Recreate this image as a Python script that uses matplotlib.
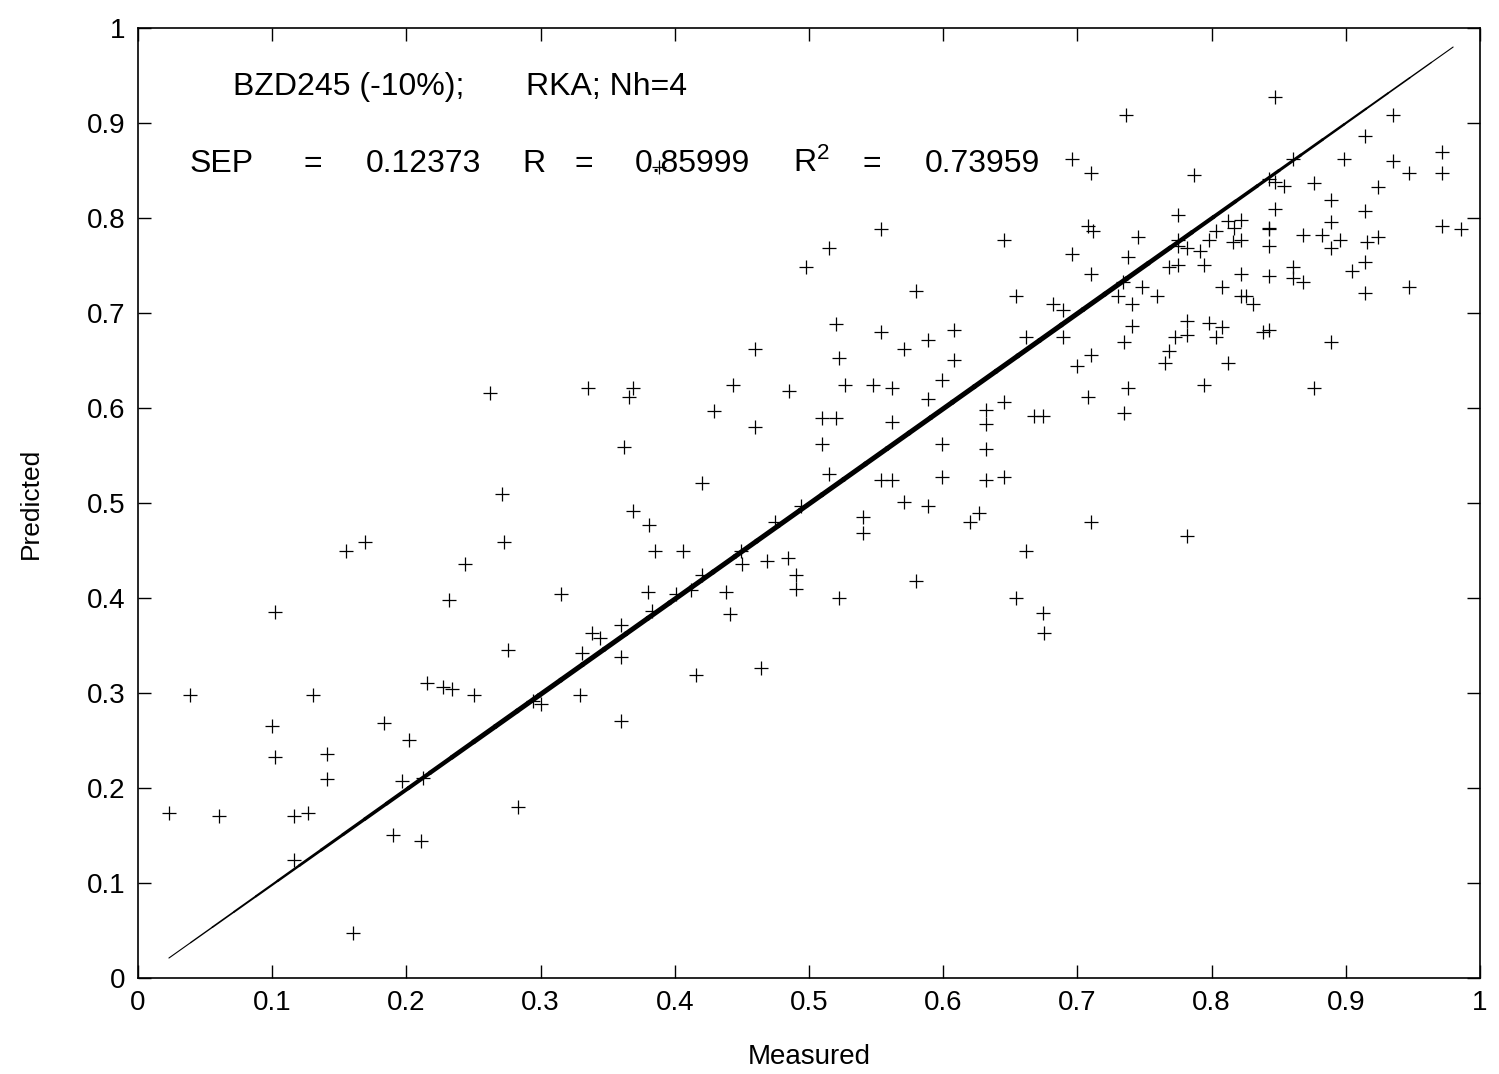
import matplotlib
matplotlib.use("Agg")
import matplotlib.pyplot as plt
import numpy as np
from matplotlib.collections import LineCollection

# measured / predicted values
measured = [
    0.388, 0.498, 0.736, 0.696, 0.710, 0.554, 0.515, 0.645, 0.708, 0.712,
    0.745, 0.696, 0.738, 0.710, 0.580, 0.734, 0.748, 0.654, 0.682, 0.689,
    0.730, 0.741, 0.520, 0.554, 0.608, 0.589, 0.741, 0.662, 0.689, 0.735,
    0.571, 0.847, 0.935, 0.914, 0.972, 0.861, 0.899, 0.935, 0.787, 0.843,
    0.847, 0.854, 0.876, 0.924, 0.947, 0.972, 0.889, 0.847, 0.914, 0.775,
    0.889, 0.812, 0.822, 0.817, 0.803, 0.843, 0.843, 0.972, 0.986, 0.868,
    0.882, 0.896, 0.924, 0.916, 0.889, 0.798, 0.816, 0.822, 0.843, 0.775,
    0.775, 0.782, 0.791, 0.768, 0.775, 0.794, 0.822, 0.843, 0.861, 0.861,
    0.868, 0.905, 0.914, 0.914, 0.947, 0.808, 0.759, 0.822, 0.826, 0.831,
    0.782, 0.798, 0.808, 0.773, 0.782, 0.803, 0.838, 0.843, 0.889, 0.768,
    0.765, 0.812, 0.794, 0.876, 0.782, 0.522, 0.608, 0.710, 0.700, 0.527,
    0.548, 0.562, 0.599, 0.589, 0.645, 0.632, 0.632, 0.738, 0.708, 0.735,
    0.668, 0.674, 0.510, 0.520, 0.562, 0.510, 0.599, 0.632, 0.515, 0.554,
    0.562, 0.599, 0.632, 0.645, 0.571, 0.589, 0.540, 0.540, 0.627, 0.620,
    0.710, 0.662, 0.580, 0.522, 0.654, 0.674, 0.675, 0.460, 0.262, 0.335,
    0.369, 0.366, 0.443, 0.485, 0.429, 0.460, 0.362, 0.420, 0.271, 0.369,
    0.381, 0.494, 0.475, 0.273, 0.385, 0.406, 0.449, 0.450, 0.469, 0.484,
    0.490, 0.490, 0.420, 0.412, 0.401, 0.438, 0.441, 0.380, 0.383, 0.315,
    0.360, 0.338, 0.344, 0.276, 0.331, 0.360, 0.102, 0.155, 0.169, 0.232,
    0.244, 0.039, 0.130, 0.215, 0.227, 0.234, 0.250, 0.100, 0.183, 0.202,
    0.102, 0.141, 0.141, 0.197, 0.212, 0.023, 0.060, 0.116, 0.127, 0.116,
    0.190, 0.211, 0.160, 0.294, 0.300, 0.329, 0.360, 0.416, 0.464, 0.283,
]
predicted = [
    0.854, 0.748, 0.908, 0.862, 0.847, 0.788, 0.768, 0.777, 0.792, 0.786,
    0.780, 0.762, 0.759, 0.741, 0.723, 0.733, 0.727, 0.718, 0.709, 0.703,
    0.718, 0.709, 0.688, 0.680, 0.682, 0.672, 0.686, 0.675, 0.675, 0.670,
    0.662, 0.927, 0.908, 0.886, 0.870, 0.862, 0.862, 0.860, 0.845, 0.841,
    0.838, 0.834, 0.837, 0.833, 0.847, 0.847, 0.819, 0.809, 0.807, 0.803,
    0.796, 0.797, 0.798, 0.789, 0.786, 0.790, 0.788, 0.792, 0.788, 0.782,
    0.782, 0.777, 0.780, 0.775, 0.768, 0.777, 0.775, 0.777, 0.771, 0.777,
    0.771, 0.768, 0.765, 0.748, 0.751, 0.751, 0.741, 0.739, 0.748, 0.737,
    0.733, 0.744, 0.754, 0.721, 0.727, 0.727, 0.718, 0.718, 0.718, 0.709,
    0.692, 0.689, 0.685, 0.675, 0.677, 0.675, 0.680, 0.682, 0.670, 0.660,
    0.647, 0.647, 0.624, 0.621, 0.465, 0.653, 0.651, 0.656, 0.644, 0.624,
    0.624, 0.621, 0.629, 0.609, 0.606, 0.598, 0.583, 0.621, 0.612, 0.595,
    0.592, 0.592, 0.589, 0.589, 0.585, 0.562, 0.562, 0.557, 0.531, 0.524,
    0.524, 0.527, 0.524, 0.527, 0.501, 0.497, 0.485, 0.468, 0.489, 0.480,
    0.480, 0.450, 0.418, 0.400, 0.400, 0.384, 0.363, 0.662, 0.616, 0.621,
    0.621, 0.612, 0.624, 0.618, 0.597, 0.580, 0.559, 0.521, 0.509, 0.492,
    0.477, 0.497, 0.480, 0.459, 0.450, 0.450, 0.450, 0.436, 0.439, 0.442,
    0.424, 0.409, 0.424, 0.408, 0.404, 0.406, 0.383, 0.406, 0.386, 0.404,
    0.372, 0.363, 0.358, 0.345, 0.342, 0.338, 0.385, 0.449, 0.459, 0.398,
    0.436, 0.298, 0.298, 0.310, 0.306, 0.304, 0.298, 0.265, 0.268, 0.251,
    0.233, 0.236, 0.209, 0.207, 0.210, 0.174, 0.171, 0.171, 0.174, 0.124,
    0.151, 0.144, 0.047, 0.292, 0.288, 0.298, 0.271, 0.319, 0.326, 0.180,
]

# fitted line end points
fit_x = [0.023, 0.98]
fit_y = [0.021, 0.98]

ticks = np.arange(0, 1.01, 0.1)

# annotation pieces (spread out like the wide letter spacing of the original)
title_parts = ['BZD245 (-10%);', 'RKA; Nh=4']
title_pos = [0.1572, 0.349]
stat_parts = ['SEP', '=', '0.12373', 'R', '=', '0.85999', 'R$^2$', '=', '0.73959']
stat_pos = [0.062, 0.130, 0.2124, 0.2951, 0.3324, 0.4128, 0.502, 0.547, 0.629]

plt.rcParams['font.family'] = ['Liberation Sans', 'DejaVu Sans']
plt.rcParams['mathtext.default'] = 'regular'

fig = plt.figure(figsize=(14.99, 10.74), dpi=100)
ax = fig.add_axes([0.0921, 0.0894, 0.8952, 0.8845])

ax.plot(measured, predicted, linestyle='none', marker='+', markersize=10,
        markeredgewidth=0.9, color='black')

# regression line, thick in the middle and thinner towards the ends
t = np.linspace(0, 1, 60)
lx = fit_x[0] + t * (fit_x[1] - fit_x[0])
ly = fit_y[0] + t * (fit_y[1] - fit_y[0])
pts = np.column_stack([lx, ly]).reshape(-1, 1, 2)
segs = np.concatenate([pts[:-1], pts[1:]], axis=1)
tm = (t[:-1] + t[1:]) / 2
widths = 0.7 + 2.9 * np.clip(np.minimum(tm, 1 - tm) / 0.25, 0, 1)
ax.add_collection(LineCollection(segs, linewidths=widths, colors='black',
                                 capstyle='round'))

ax.set_xlim(0, 1)
ax.set_ylim(0, 1)
ax.set_xticks(ticks)
ax.set_yticks(ticks)
ax.set_xticklabels(['%g' % v for v in ticks])
ax.set_yticklabels(['%g' % v for v in ticks])
ax.tick_params(direction='in', length=9.5, width=1, top=True, right=True,
               labelsize=20, pad=9)
for s in ax.spines.values():
    s.set_linewidth(1.2)

ax.set_xlabel('Measured', fontsize=20, labelpad=20)
ax.set_ylabel('Predicted', fontsize=19, labelpad=32)

for txt, xp in zip(title_parts, title_pos):
    ax.text(xp, 0.929, txt, transform=ax.transAxes, fontsize=23,
            va='baseline', ha='center')
for txt, xp in zip(stat_parts, stat_pos):
    ax.text(xp, 0.848, txt, transform=ax.transAxes, fontsize=23,
            va='baseline', ha='center')

fig.savefig('out.png', dpi=100)
